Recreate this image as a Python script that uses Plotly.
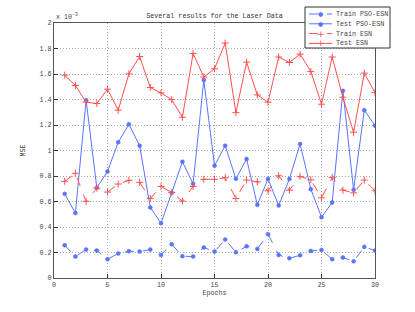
import plotly.graph_objects as go

epochs = list(range(1, 31))

train_pso_esn = [0.257, 0.168, 0.223, 0.215, 0.147, 0.192, 0.210, 0.207, 0.223, 0.181,
                 0.265, 0.171, 0.168, 0.239, 0.207, 0.302, 0.202, 0.249, 0.228, 0.344,
                 0.181, 0.155, 0.178, 0.212, 0.220, 0.147, 0.160, 0.131, 0.244, 0.215]
test_pso_esn = [0.660, 0.509, 1.395, 0.708, 0.836, 1.064, 1.206, 1.038, 0.553, 0.430,
                0.668, 0.912, 0.739, 1.552, 0.881, 1.038, 0.778, 0.933, 0.574, 0.776,
                0.569, 0.776, 1.051, 0.697, 0.477, 0.593, 1.468, 0.692, 1.316, 1.195]
train_esn = [0.758, 0.821, 0.601, 0.705, 0.674, 0.737, 0.766, 0.750, 0.624, 0.718,
             0.671, 0.603, 0.718, 0.774, 0.774, 0.786, 0.624, 0.768, 0.755, 0.684,
             0.802, 0.689, 0.797, 0.770, 0.629, 0.789, 0.689, 0.668, 0.768, 0.684]
test_esn = [1.591, 1.510, 1.379, 1.368, 1.481, 1.316, 1.601, 1.737, 1.494, 1.452,
            1.399, 1.261, 1.761, 1.576, 1.641, 1.843, 1.297, 1.693, 1.436, 1.379,
            1.733, 1.690, 1.756, 1.620, 1.363, 1.733, 1.418, 1.143, 1.607, 1.454]

series_names = ["Train PSO-ESN", "Test PSO-ESN", "Train ESN", "Test ESN"]

x_ticks = [0, 5, 10, 15, 20, 25, 30]
y_ticks = [0, 0.2, 0.4, 0.6, 0.8, 1, 1.2, 1.4, 1.6, 1.8, 2]
y_tick_labels = ["0", "0.2", "0.4", "0.6", "0.8", "1", "1.2", "1.4", "1.6", "1.8", "2"]

BLUE = "#5a74ff"
RED = "#ff5050"
FONT = "Liberation Mono, Courier New, monospace"
FS = 6.7
TXT = "#444444"

W, H = 415, 312
ML, MR, MT, MB = 54, 40, 23, 34
PW, PH = W - ML - MR, H - MT - MB

blue_marker = dict(symbol="circle", size=4, color=BLUE, line=dict(color=BLUE, width=0.5))
red_marker = dict(symbol="cross-thin-open", size=5, color=RED, line=dict(color=RED, width=1))

styles = [
    dict(color=BLUE, dash="dash", marker=blue_marker, glyph="●", gsize=6),
    dict(color=BLUE, dash="solid", marker=blue_marker, glyph="●", gsize=6),
    dict(color=RED, dash="dash", marker=red_marker, glyph="+", gsize=9),
    dict(color=RED, dash="solid", marker=red_marker, glyph="+", gsize=9),
]
values = [train_pso_esn, test_pso_esn, train_esn, test_esn]

fig = go.Figure()
for name, vals, st in zip(series_names, values, styles):
    fig.add_trace(go.Scatter(x=epochs, y=vals, name=name, mode="lines+markers",
                             line=dict(color=st["color"], width=1, dash=st["dash"]),
                             marker=st["marker"], showlegend=False))

axis_common = dict(showline=True, mirror=True, linecolor="#555555", linewidth=1.2,
                   ticks="inside", ticklen=4, tickcolor="#333333",
                   showgrid=True, gridcolor="#a8a8a8", griddash="1px,2px", gridwidth=1,
                   zeroline=False, tickfont=dict(family=FONT, size=FS, color=TXT))

fig.update_xaxes(range=[0, 30], tickvals=x_ticks, **axis_common,
                 title=dict(text="Epochs", font=dict(family=FONT, size=FS, color=TXT), standoff=2))
fig.update_yaxes(range=[0, 2], tickvals=y_ticks, ticktext=y_tick_labels, **axis_common,
                 title=dict(text="MSE", font=dict(family=FONT, size=FS, color=TXT), standoff=13))

fig.update_layout(
    width=W, height=H,
    margin=dict(l=ML, r=MR, t=MT, b=MB, autoexpand=False),
    paper_bgcolor="white", plot_bgcolor="white",
    showlegend=False,
    title=dict(text="Several results for the Laser Data", x=0.5, xref="paper", xanchor="center",
               y=1 - 16 / H, yanchor="middle", font=dict(family=FONT, size=FS, color="#333333")),
)
fig.add_annotation(text="x 10<sup>-3</sup>", xref="paper", yref="paper", x=0.0, y=1.0,
                   xanchor="left", yanchor="bottom", showarrow=False,
                   font=dict(family=FONT, size=FS, color=TXT))


# Legend key (drawn in paper coordinates, pixel layout converted)
def px(xp):
    return (xp - ML) / PW


def py(yp):
    return (H - MB - yp) / PH


box = dict(x0=305, x1=390, y0=7, y1=48)
fig.add_shape(type="rect", xref="paper", yref="paper",
              x0=px(box["x0"]), x1=px(box["x1"]), y0=py(box["y1"]), y1=py(box["y0"]),
              fillcolor="white", line=dict(color="#333333", width=1), layer="above")
row_y0, row_step = 14, 9.8
for i, (name, st) in enumerate(zip(series_names, styles)):
    yy = row_y0 + i * row_step
    fig.add_shape(type="line", xref="paper", yref="paper",
                  x0=px(309), x1=px(332), y0=py(yy), y1=py(yy),
                  line=dict(color=st["color"], width=1, dash=st["dash"]), layer="above")
    fig.add_annotation(text=st["glyph"], xref="paper", yref="paper", x=px(320.5), y=py(yy),
                       xanchor="center", yanchor="middle", showarrow=False,
                       font=dict(family="DejaVu Sans", size=st["gsize"], color=st["color"]))
    fig.add_annotation(text=name, xref="paper", yref="paper", x=px(334), y=py(yy),
                       xanchor="left", yanchor="middle", showarrow=False,
                       font=dict(family=FONT, size=FS, color=TXT))

fig.write_html("out.html", config={"displayModeBar": False},
               post_script="document.body.style.margin='0';document.body.style.overflow='hidden';")
